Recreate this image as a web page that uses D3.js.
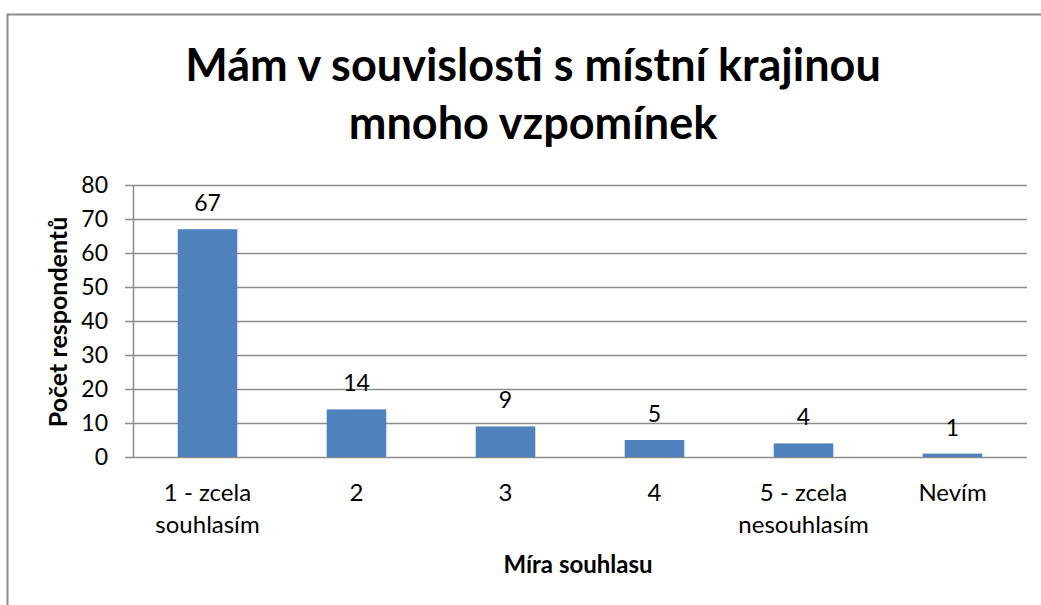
<!DOCTYPE html>
<html>
<head>
<meta charset="utf-8">
<script src="https://cdn.jsdelivr.net/npm/d3@7"></script>
<style>
  body { margin: 0; background: #fff; }
  svg text { font-family: Lato, "Open Sans", sans-serif; fill: #000; }
</style>
</head>
<body>
<div id="chart"></div>
<script>
var categories = [['1 - zcela', 'souhlasím'], ['2'], ['3'], ['4'], ['5 - zcela', 'nesouhlasím'], ['Nevím']];
var values = [67, 14, 9, 5, 4, 1];
var yTicks = [0, 10, 20, 30, 40, 50, 60, 70, 80];
var titleLines = ['Mám v souvislosti s místní krajinou', 'mnoho vzpomínek'];
var yTitle = 'Počet respondentů';
var xTitle = 'Míra souhlasu';

var width = 1041;
var height = 605;
var plot = {left: 133, right: 1027, top: 185, bottom: 457};
var gridColor = '#8c8c8c';
var barColor = '#4F81BD';

var svg = d3.select('#chart')
    .append('svg')
    .attr('width', width)
    .attr('height', height);

// outer chart border
svg.append('rect')
    .attr('x', 7.5)
    .attr('y', 14.5)
    .attr('width', 1100)
    .attr('height', 700)
    .attr('fill', 'none')
    .attr('stroke', '#8c8c8c')
    .attr('stroke-width', 2);

var x = d3.scaleBand()
    .domain(d3.range(categories.length))
    .range([plot.left, plot.right])
    .paddingInner(0.6)
    .paddingOuter(0.3);

var y = d3.scaleLinear()
    .domain([0, 80])
    .range([plot.bottom, plot.top]);

// gridlines
svg.append('g')
    .selectAll('line')
    .data(yTicks)
    .enter()
    .append('line')
    .attr('x1', plot.left - 8)
    .attr('x2', plot.right)
    .attr('y1', function (d) {return Math.round(y(d)) + 0.5;})
    .attr('y2', function (d) {return Math.round(y(d)) + 0.5;})
    .attr('stroke', gridColor)
    .attr('stroke-width', 1.5);

// y axis line
svg.append('line')
    .attr('x1', plot.left + 0.5)
    .attr('x2', plot.left + 0.5)
    .attr('y1', plot.top)
    .attr('y2', plot.bottom)
    .attr('stroke', gridColor)
    .attr('stroke-width', 1.5);

// bars
svg.append('g')
    .selectAll('rect')
    .data(values)
    .enter()
    .append('rect')
    .attr('x', function (d, i) {return x(i);})
    .attr('y', function (d) {return y(d);})
    .attr('width', x.bandwidth())
    .attr('height', function (d) {return plot.bottom - y(d);})
    .attr('fill', barColor);

// data labels
svg.append('g')
    .selectAll('text')
    .data(values)
    .enter()
    .append('text')
    .attr('x', function (d, i) {return x(i) + x.bandwidth() / 2;})
    .attr('y', function (d) {return y(d) - 18;})
    .attr('text-anchor', 'middle')
    .style('font-size', '23px')
    .text(function (d) {return d;});

// y tick labels
svg.append('g')
    .selectAll('text')
    .data(yTicks)
    .enter()
    .append('text')
    .attr('x', 108)
    .attr('y', function (d) {return y(d) + 8;})
    .attr('text-anchor', 'end')
    .style('font-size', '23px')
    .text(function (d) {return d;});

// category labels
var cat = svg.append('g')
    .selectAll('text')
    .data(categories)
    .enter()
    .append('text')
    .attr('text-anchor', 'middle')
    .style('font-size', '24px');

cat.selectAll('tspan')
    .data(function (d, i) {return d.map(function (t) {return {t: t, i: i};});})
    .enter()
    .append('tspan')
    .attr('x', function (d) {return x(d.i) + x.bandwidth() / 2;})
    .attr('y', function (d, j) {return 501 + j * 32;})
    .text(function (d) {return d.t;});

// title
svg.append('g')
    .selectAll('text')
    .data(titleLines)
    .enter()
    .append('text')
    .attr('x', 533)
    .attr('y', function (d, i) {return 81 + i * 58;})
    .attr('text-anchor', 'middle')
    .style('font-size', '45px')
    .style('font-weight', 'bold')
    .text(function (d) {return d;});

// axis titles
svg.append('text')
    .attr('transform', 'translate(67, 322) rotate(-90)')
    .attr('text-anchor', 'middle')
    .style('font-size', '25px')
    .style('font-weight', 'bold')
    .text(yTitle);

svg.append('text')
    .attr('x', 578)
    .attr('y', 573)
    .attr('text-anchor', 'middle')
    .style('font-size', '24px')
    .style('font-weight', 'bold')
    .text(xTitle);
</script>
</body>
</html>
